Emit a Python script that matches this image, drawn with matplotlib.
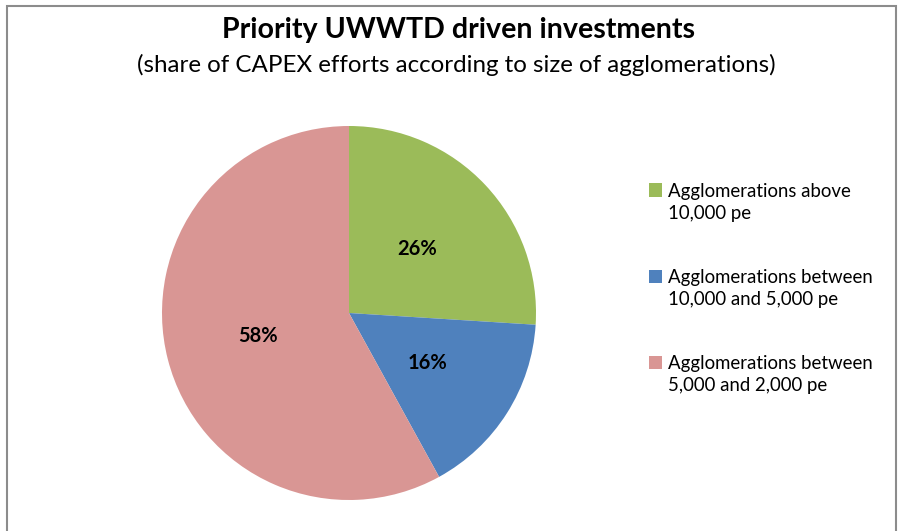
#!/usr/bin/env python3
"""Pie chart: priority UWWTD driven investments by agglomeration size."""

import matplotlib
matplotlib.use("Agg")
import matplotlib.pyplot as plt
from matplotlib.patches import Rectangle

labels = [
    "Agglomerations above\n10,000 pe",
    "Agglomerations between\n10,000 and 5,000 pe",
    "Agglomerations between\n5,000 and 2,000 pe",
]
shares = [26, 16, 58]
colors = ["#9BBB59", "#4F81BD", "#D99694"]

plt.rcParams["font.family"] = ["Lato", "DejaVu Sans"]

W, H = 899, 531
fig = plt.figure(figsize=(W / 100, H / 100), dpi=100)

# outer frame (bottom edge is cut off in the original)
fig.patches.append(Rectangle((7 / W, -0.01), (896 - 7) / W, 1 - 6 / H + 0.01,
                             transform=fig.transFigure, fill=False,
                             edgecolor="#8c8c8c", linewidth=1.5))

fig.text(458 / W, 1 - 30 / H, "Priority UWWTD driven investments",
         ha="center", va="center", fontsize=20.6, fontweight="bold")
fig.text(456 / W, 1 - 65 / H, "(share of CAPEX efforts according to size of agglomerations)",
         ha="center", va="center", fontsize=17.4)

cx, cy, r = 349, 313, 187
ax = fig.add_axes([(cx - r) / W, (H - cy - r) / H, 2 * r / W, 2 * r / H])
wedges, _, autotexts = ax.pie(shares, colors=colors, startangle=90, counterclock=False,
                              autopct="%d%%", pctdistance=0.5, radius=1,
                              wedgeprops=dict(linewidth=0))
for t in autotexts:
    t.set_fontsize(14.5)
    t.set_fontweight("bold")
ax.set_xlim(-1, 1)
ax.set_ylim(-1, 1)
ax.set_aspect("equal")

# legend: square swatch aligned with the first line of each two-line label
leg_x, leg_y0, leg_step = 649, 190, 86
for i, (lab, col) in enumerate(zip(labels, colors)):
    y = leg_y0 + i * leg_step
    fig.patches.append(Rectangle((leg_x / W, (H - y - 6.5) / H), 13 / W, 13 / H,
                                 transform=fig.transFigure, facecolor=col, edgecolor="none"))
    fig.text((leg_x + 19) / W, (H - y - 12.5) / H, lab, ha="left", va="center",
             fontsize=13.4, linespacing=1.4)

fig.savefig("out.png", dpi=100)
